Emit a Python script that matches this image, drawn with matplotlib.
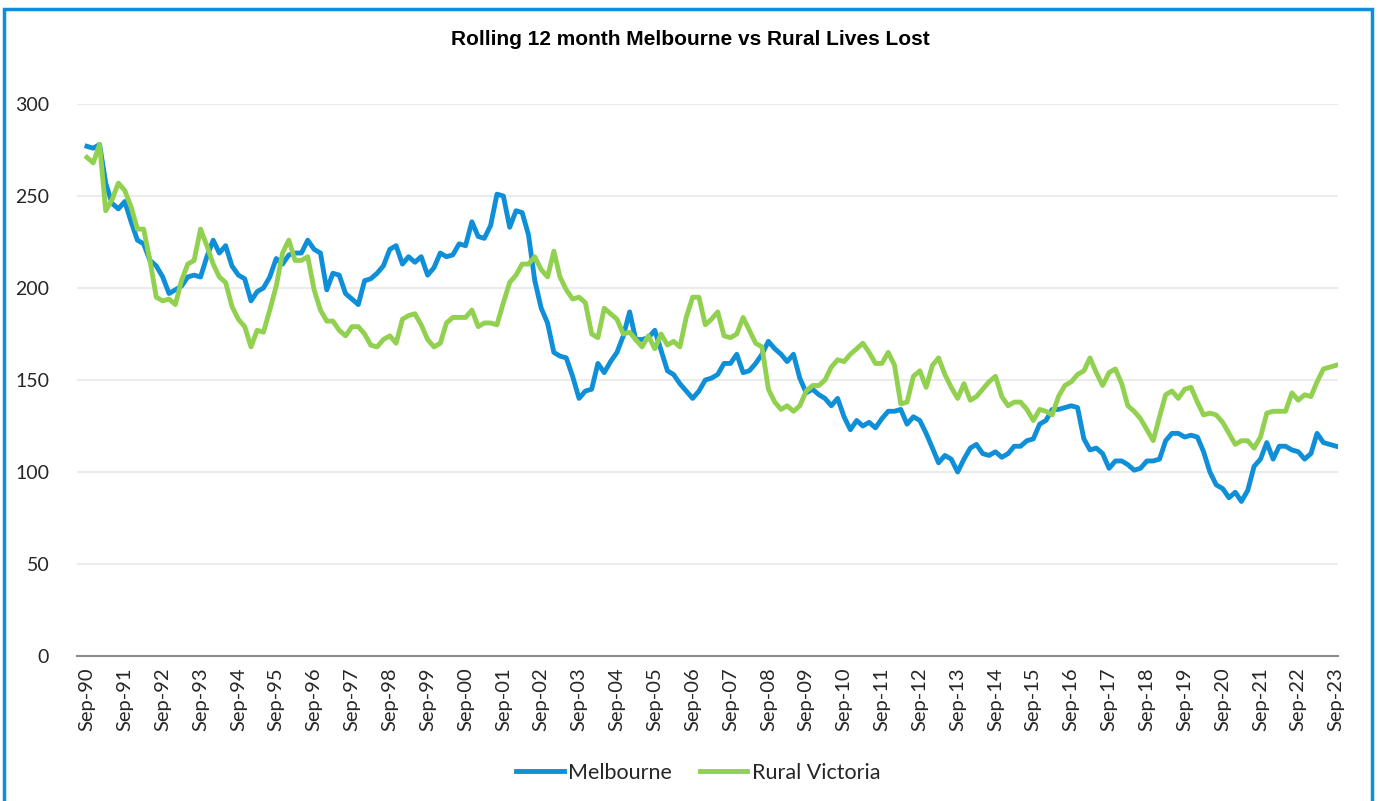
"""
Rolling 12 month Melbourne vs Rural Lives Lost - line chart recreation.
"""

import matplotlib
matplotlib.use("Agg")
import matplotlib.pyplot as plt
import matplotlib.dates as mdates
import matplotlib.patches as mpatches
import pandas as pd


# ── Data (bi-monthly readings, Sep-90 .. Sep-23) ─────────────────────────────

start_month = "1990-09-01"

melbourne = [
    277, 276, 278, 257, 246, 243, 247, 236, 226, 224,
    215, 212, 206, 197, 199, 201, 206, 207, 206, 217,
    226, 219, 223, 212, 207, 205, 193, 198, 200, 206,
    216, 213, 218, 219, 219, 226, 221, 219, 199, 208,
    207, 197, 194, 191, 204, 205, 208, 212, 221, 223,
    213, 217, 214, 217, 207, 211, 219, 217, 218, 224,
    223, 236, 228, 227, 234, 251, 250, 233, 242, 241,
    229, 204, 189, 181, 165, 163, 162, 152, 140, 144,
    145, 159, 154, 160, 165, 174, 187, 172, 172, 173,
    177, 166, 155, 153, 148, 144, 140, 144, 150, 151,
    153, 159, 159, 164, 154, 155, 159, 164, 171, 167,
    164, 160, 164, 151, 143, 145, 142, 140, 136, 140,
    130, 123, 128, 125, 127, 124, 129, 133, 133, 134,
    126, 130, 128, 121, 113, 105, 109, 107, 100, 107,
    113, 115, 110, 109, 111, 108, 110, 114, 114, 117,
    118, 126, 128, 134, 134, 135, 136, 135, 118, 112,
    113, 110, 102, 106, 106, 104, 101, 102, 106, 106,
    107, 117, 121, 121, 119, 120, 119, 111, 100, 93,
    91, 86, 89, 84, 90, 103, 107, 116, 107, 114,
    114, 112, 111, 107, 110, 121, 116, 115, 114,
]

rural_victoria = [
    271, 268, 278, 242, 248, 257, 253, 244, 232, 232,
    215, 195, 193, 194, 191, 204, 213, 215, 232, 223,
    213, 206, 203, 190, 183, 179, 168, 177, 176, 188,
    201, 219, 226, 215, 215, 217, 199, 188, 182, 182,
    177, 174, 179, 179, 175, 169, 168, 172, 174, 170,
    183, 185, 186, 180, 172, 168, 170, 181, 184, 184,
    184, 188, 179, 181, 181, 180, 192, 203, 207, 213,
    213, 217, 210, 206, 220, 206, 199, 194, 195, 192,
    175, 173, 189, 186, 183, 175, 176, 172, 168, 174,
    167, 175, 169, 171, 168, 184, 195, 195, 180, 183,
    187, 174, 173, 175, 184, 177, 170, 168, 145, 138,
    134, 136, 133, 136, 144, 147, 147, 150, 157, 161,
    160, 164, 167, 170, 165, 159, 159, 165, 158, 137,
    138, 152, 155, 146, 158, 162, 153, 146, 140, 148,
    139, 141, 145, 149, 152, 141, 136, 138, 138, 134,
    128, 134, 133, 131, 141, 147, 149, 153, 155, 162,
    154, 147, 154, 156, 148, 136, 133, 129, 123, 117,
    130, 142, 144, 140, 145, 146, 138, 131, 132, 131,
    127, 121, 115, 117, 117, 113, 119, 132, 133, 133,
    133, 143, 139, 142, 141, 149, 156, 157, 158,
]

series_names = ["Melbourne", "Rural Victoria"]
y_ticks = [0, 50, 100, 150, 200, 250, 300]

dates = pd.date_range(start_month, periods=len(melbourne), freq="2MS")


# ── Style config ──────────────────────────────────────────────────────────────

BLUE = "#0E8FD8"
GREEN = "#92D050"
BORDER = "#0B8EDC"
GRID = "#EBEBEB"
AXIS = "#8C8C8C"
TEXT = "#262626"
FONT = ["Lato", "DejaVu Sans"]

plt.rcParams["font.family"] = FONT

fig = plt.figure(figsize=(13.8, 8.01), dpi=100, facecolor="white")
ax = fig.add_axes([77 / 1380, 1 - 656 / 801, (1338 - 77) / 1380, (656 - 104) / 801])

ax.plot(dates, melbourne, color=BLUE, lw=3.5, label=series_names[0],
        solid_joinstyle="round")
ax.plot(dates, rural_victoria, color=GREEN, lw=3.5, label=series_names[1],
        solid_joinstyle="round")

# ── Axes ──────────────────────────────────────────────────────────────────────
ax.set_ylim(0, 300)
ax.set_yticks(y_ticks)
ax.set_xlim(dates[0] - pd.Timedelta(days=96), dates[-1] + pd.Timedelta(days=18))
ax.xaxis.set_major_locator(mdates.YearLocator(base=1, month=9, day=1))
ax.xaxis.set_major_formatter(mdates.DateFormatter("%b-%y"))
ax.tick_params(axis="x", rotation=90, length=0, pad=8, labelsize=14.5, labelcolor=TEXT)
ax.tick_params(axis="y", length=0, pad=20, labelsize=14, labelcolor=TEXT)

ax.grid(axis="y", color=GRID, lw=1.5)
ax.set_axisbelow(True)
for side in ["top", "right", "left"]:
    ax.spines[side].set_visible(False)
ax.spines["bottom"].set_color(AXIS)
ax.spines["bottom"].set_linewidth(1.5)

# ── Title and legend ─────────────────────────────────────────────────────────
fig.text(0.5, 0.951, "Rolling 12 month Melbourne vs Rural Lives Lost",
         ha="center", va="center", fontsize=15, fontweight="bold", color="black",
         family=["Liberation Sans Narrow", "Liberation Sans", "DejaVu Sans"])

fig.legend(loc="center", bbox_to_anchor=(0.506, 0.035), ncol=2, frameon=False,
           fontsize=15.5, handlelength=2.2, handletextpad=0.2, columnspacing=1.3,
           labelcolor=TEXT)

# ── Border ────────────────────────────────────────────────────────────────────
fig.patches.append(mpatches.Rectangle(
    (4 / 1380, -0.02), 1368 / 1380, 1.02 - 9 / 801, transform=fig.transFigure,
    fill=False, edgecolor=BORDER, lw=2.5))

fig.savefig("out.png", dpi=100, facecolor="white")
plt.close(fig)
